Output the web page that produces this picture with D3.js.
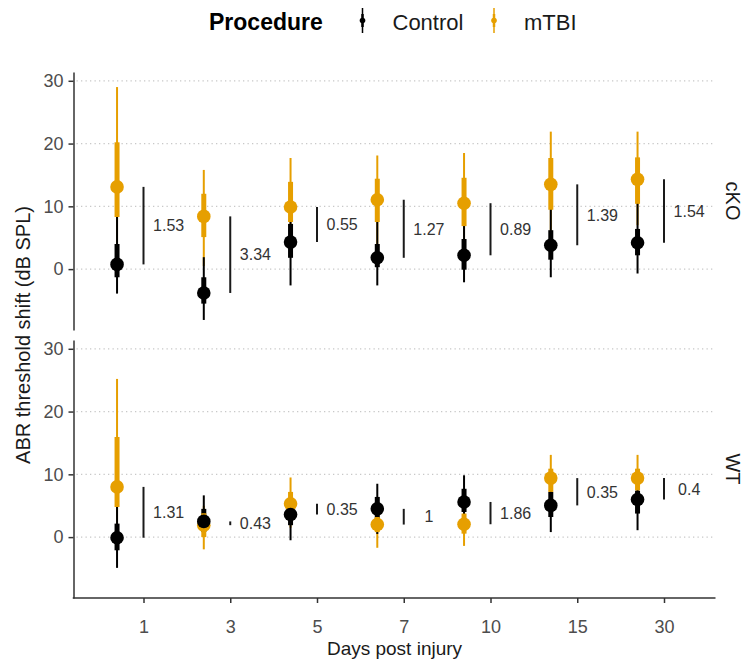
<!DOCTYPE html>
<html>
<head>
<meta charset="utf-8">
<script src="https://cdn.jsdelivr.net/npm/d3@7"></script>
<style>
  body { margin: 0; background: #fff; }
  text { font-family: "Liberation Sans", Arial, sans-serif; }
</style>
</head>
<body>
<div id="chart"></div>
<script>
// categories
var days = ["1", "3", "5", "7", "10", "15", "30"]
var panels = ["cKO", "WT"]
var groups = ["Control", "mTBI"]
var yTicks = [0, 10, 20, 30]

// cKO, Control: median, 66% and 95% intervals
var ckoControlMid  = [0.75, -3.8, 4.3, 1.8, 2.2, 3.8, 4.2]
var ckoControlLo66 = [-1.3, -5.5, 1.8, 0.3, -0.1, 1.5, 2.2]
var ckoControlHi66 = [4.0, -1.3, 7.2, 4.0, 4.8, 6.2, 6.4]
var ckoControlLo95 = [-3.9, -8.1, -2.6, -2.6, -2.1, -1.3, -0.7]
var ckoControlHi95 = [9.0, 1.9, 9.5, 8.0, 7.5, 10.0, 10.8]

// cKO, mTBI
var ckoMtbiMid  = [13.1, 8.4, 9.9, 11.05, 10.5, 13.5, 14.3]
var ckoMtbiLo66 = [8.3, 5.1, 7.5, 7.5, 6.85, 9.45, 10.4]
var ckoMtbiHi66 = [20.2, 12.0, 13.9, 14.4, 14.55, 17.7, 17.8]
var ckoMtbiLo95 = [3.5, 0.5, 4.5, 4.0, 3.5, 6.0, 7.0]
var ckoMtbiHi95 = [29.0, 15.8, 17.7, 18.1, 18.5, 21.9, 21.9]

// WT, Control
var wtControlMid  = [-0.1, 2.5, 3.6, 4.5, 5.6, 5.05, 6.0]
var wtControlLo66 = [-2.1, 0.8, 1.9, 2.8, 4.0, 3.2, 3.75]
var wtControlHi66 = [2.15, 4.5, 5.0, 6.4, 7.7, 7.2, 7.4]
var wtControlLo95 = [-4.9, 0.3, -0.5, 0.5, 1.5, 0.8, 1.1]
var wtControlHi95 = [5.5, 6.65, 6.5, 8.5, 9.85, 9.0, 8.8]

// WT, mTBI
var wtMtbiMid  = [8.0, 1.9, 5.3, 2.0, 2.05, 9.4, 9.4]
var wtMtbiLo66 = [4.8, 0.0, 3.8, 0.8, 0.55, 7.2, 7.45]
var wtMtbiHi66 = [15.95, 3.8, 7.2, 3.2, 3.75, 10.9, 10.9]
var wtMtbiLo95 = [1.0, -1.95, 1.5, -1.7, -1.4, 5.5, 6.0]
var wtMtbiHi95 = [25.2, 5.0, 9.5, 4.0, 5.0, 13.1, 13.1]

// numbers written beside the difference bars
var ckoLabels = ["1.53", "3.34", "0.55", "1.27", "0.89", "1.39", "1.54"]
var wtLabels  = ["1.31", "0.43", "0.35", "1", "1.86", "0.35", "0.4"]

var source = {
  cKO: { Control: [ckoControlMid, ckoControlLo66, ckoControlHi66, ckoControlLo95, ckoControlHi95],
         mTBI:    [ckoMtbiMid, ckoMtbiLo66, ckoMtbiHi66, ckoMtbiLo95, ckoMtbiHi95],
         labels:  ckoLabels },
  WT:  { Control: [wtControlMid, wtControlLo66, wtControlHi66, wtControlLo95, wtControlHi95],
         mTBI:    [wtMtbiMid, wtMtbiLo66, wtMtbiHi66, wtMtbiLo95, wtMtbiHi95],
         labels:  wtLabels }
}

// long table of intervals
var rows = []
panels.forEach(function(p) {
  groups.forEach(function(g) {
    var s = source[p][g]
    days.forEach(function(d, i) {
      rows.push({ panel: p, group: g, day: d, mid: s[0][i], lo66: s[1][i], hi66: s[2][i], lo95: s[3][i], hi95: s[4][i] })
    })
  })
})

// difference bars: from control median to mTBI median
var diffs = []
panels.forEach(function(p) {
  days.forEach(function(d, i) {
    diffs.push({ panel: p, day: d, a: source[p].Control[0][i], b: source[p].mTBI[0][i], label: source[p].labels[i] })
  })
})

var color = d3.scaleOrdinal().domain(groups).range(["#000000", "#E69F00"])

// layout
var width = 744, height = 660
var left = 73.5, right = 715.5
var panelTop = { cKO: 72, WT: 340 }
var panelH = 258

var svg = d3.select("#chart").append("svg")
  .attr("width", width)
  .attr("height", height)

var x = d3.scalePoint().domain(days).range([143.5, 664])
var step = x.step()
var pointShift = -0.305 * step
var labelShift = 0.29 * step

var y = {}
panels.forEach(function(p) {
  y[p] = d3.scaleLinear().domain([-9.7, 31.4]).range([panelTop[p] + panelH, panelTop[p]])
})

panels.forEach(function(p) {
  var g = svg.append("g")

  // dotted grid
  g.selectAll(".grid")
    .data(yTicks)
    .enter()
    .append("line")
      .attr("x1", left + 3)
      .attr("x2", right)
      .attr("y1", function(d) { return y[p](d) })
      .attr("y2", function(d) { return y[p](d) })
      .attr("stroke", "#c8c8c8")
      .attr("stroke-width", 1.2)
      .attr("stroke-dasharray", "1.3,3.2")

  // y axis
  var ya = g.append("g")
    .attr("transform", "translate(" + left + ",0)")
    .call(d3.axisLeft(y[p]).tickValues(yTicks).tickSize(5).tickPadding(5).tickSizeOuter(0))
  ya.select(".domain").attr("stroke", "#333").attr("stroke-width", 1.5)
  ya.selectAll(".tick line").attr("stroke", "#333").attr("stroke-width", 1.5)
  ya.selectAll(".tick text").attr("font-size", 18).attr("fill", "#4d4d4d")
    .style("font-family", "'Liberation Sans', Arial, sans-serif")

  // strip label
  g.append("text")
    .attr("transform", "translate(726," + (panelTop[p] + panelH / 2) + ") rotate(90)")
    .attr("text-anchor", "middle")
    .attr("font-size", 20)
    .attr("fill", "#1a1a1a")
    .text(p)

  // difference bars and their numbers
  var dd = diffs.filter(function(d) { return d.panel === p })
  g.selectAll(".diff")
    .data(dd)
    .enter()
    .append("line")
      .attr("x1", function(d) { return x(d.day) })
      .attr("x2", function(d) { return x(d.day) })
      .attr("y1", function(d) { return y[p](d.a) })
      .attr("y2", function(d) { return y[p](d.b) })
      .attr("stroke", "#1a1a1a")
      .attr("stroke-width", 2)

  g.selectAll(".difftext")
    .data(dd)
    .enter()
    .append("text")
      .attr("x", function(d) { return x(d.day) + labelShift })
      .attr("y", function(d) { return y[p]((d.a + d.b) / 2) })
      .attr("dy", "0.36em")
      .attr("text-anchor", "middle")
      .attr("font-size", 16)
      .attr("fill", "#333")
      .text(function(d) { return d.label })

  // intervals and points, layered as in the figure
  var layers = [
    { group: "mTBI", kind: "thin" },
    { group: "Control", kind: "thin" },
    { group: "Control", kind: "thick" },
    { group: "mTBI", kind: "thick" },
    { group: "mTBI", kind: "point" },
    { group: "Control", kind: "point" }
  ]
  layers.forEach(function(l) {
    var data = rows.filter(function(r) { return r.panel === p && r.group === l.group })
    var px = function(d) { return x(d.day) + pointShift }
    if (l.kind === "point") {
      g.selectAll(null)
        .data(data)
        .enter()
        .append("circle")
          .attr("cx", px)
          .attr("cy", function(d) { return y[p](d.mid) })
          .attr("r", 6.8)
          .attr("fill", color(l.group))
    } else {
      var thin = l.kind === "thin"
      g.selectAll(null)
        .data(data)
        .enter()
        .append("line")
          .attr("x1", px)
          .attr("x2", px)
          .attr("y1", function(d) { return y[p](thin ? d.lo95 : d.lo66) })
          .attr("y2", function(d) { return y[p](thin ? d.hi95 : d.hi66) })
          .attr("stroke", color(l.group))
          .attr("stroke-width", thin ? 2 : 5)
    }
  })
})

// x axis under the lower panel
var xBase = panelTop.WT + panelH
svg.append("line")
  .attr("x1", left - 0.75)
  .attr("x2", right)
  .attr("y1", xBase)
  .attr("y2", xBase)
  .attr("stroke", "#333")
  .attr("stroke-width", 1.5)
var xa = svg.append("g")
  .attr("transform", "translate(0," + xBase + ")")
  .call(d3.axisBottom(x).tickSize(5).tickPadding(17).tickSizeOuter(0))
xa.select(".domain").remove()
xa.selectAll(".tick line").attr("stroke", "#333").attr("stroke-width", 1.5)
xa.selectAll(".tick text").attr("font-size", 18).attr("fill", "#4d4d4d")
  .style("font-family", "'Liberation Sans', Arial, sans-serif")

// axis titles
svg.append("text")
  .attr("x", (left + right) / 2)
  .attr("y", 655)
  .attr("text-anchor", "middle")
  .attr("font-size", 19)
  .attr("fill", "#1a1a1a")
  .text("Days post injury")

svg.append("text")
  .attr("transform", "translate(30," + ((panelTop.cKO + panelTop.WT + panelH) / 2) + ") rotate(-90)")
  .attr("text-anchor", "middle")
  .attr("font-size", 20)
  .attr("fill", "#1a1a1a")
  .text("ABR threshold shift (dB SPL)")

// legend
var legend = svg.append("g")
legend.append("text")
  .attr("x", 209)
  .attr("y", 30)
  .attr("font-size", 23)
  .attr("font-weight", "bold")
  .attr("fill", "#000")
  .text("Procedure")

var legendX = { Control: 362.5, mTBI: 494 }
groups.forEach(function(gr) {
  var lx = legendX[gr]
  legend.append("line")
    .attr("x1", lx).attr("x2", lx).attr("y1", 8).attr("y2", 33)
    .attr("stroke", color(gr)).attr("stroke-width", 1.5)
  legend.append("line")
    .attr("x1", lx).attr("x2", lx).attr("y1", 14).attr("y2", 27)
    .attr("stroke", color(gr)).attr("stroke-width", 2.5)
  legend.append("circle")
    .attr("cx", lx).attr("cy", 20.5).attr("r", 2.8)
    .attr("fill", color(gr))
  legend.append("text")
    .attr("x", lx + 30)
    .attr("y", 30)
    .attr("font-size", 22)
    .attr("fill", "#1a1a1a")
    .text(gr)
})
</script>
</body>
</html>
